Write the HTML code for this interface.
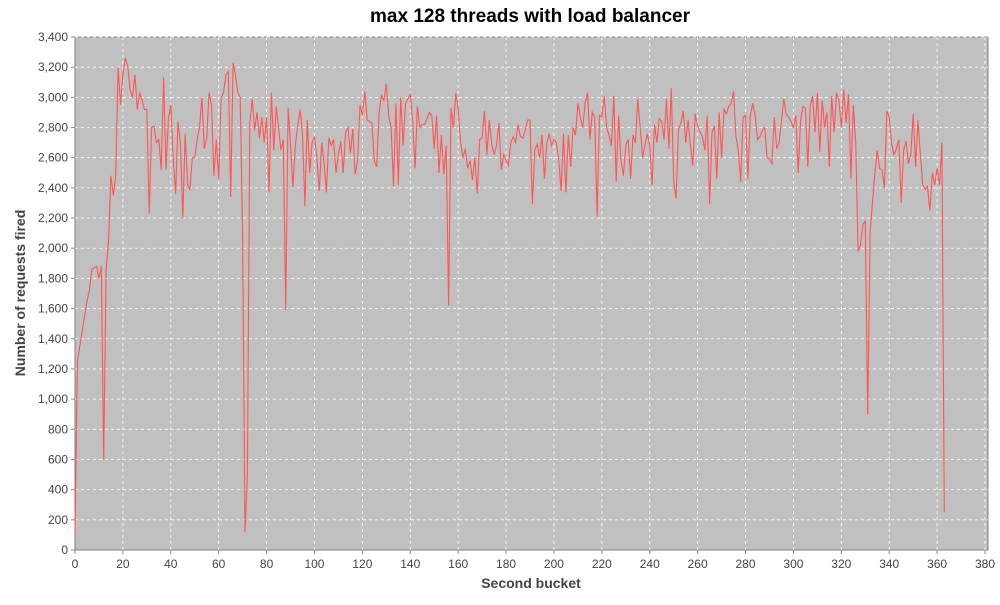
<!DOCTYPE html>
<html><head><meta charset="utf-8"><style>
body{margin:0;background:#fff;font-family:"Liberation Sans",sans-serif;}
svg text{font-family:"Liberation Sans",sans-serif;}
</style></head><body>
<svg id="chart" width="1000" height="600" xmlns="http://www.w3.org/2000/svg">
<text x="530" y="22" text-anchor="middle" font-size="19" font-weight="bold">max 128 threads with load balancer</text>
<rect x="75" y="37" width="913" height="513" fill="#c0c0c0" stroke="#808080"/>
<g id="grid"></g>
<g id="yticks"></g>
<g id="xticks"></g>
<path id="line" fill="none" stroke="#ff5555" stroke-width="1.1"/>
<text transform="translate(25,293) rotate(-90)" text-anchor="middle" font-size="14" font-weight="bold" fill="#444">Number of requests fired</text>
<text x="531" y="588" text-anchor="middle" font-size="14" font-weight="bold" fill="#444">Second bucket</text>
</svg>
<script>
const values = [100,1250,1350,1450,1550,1650,1720,1860,1870,1880,1800,1880,600,1850,2050,2480,2350,2480,3200,2950,3150,3260,3210,3050,3000,3150,2920,3030,2980,2920,2920,2230,2800,2810,2700,2720,2520,3130,2520,2860,2950,2600,2360,2840,2700,2200,2760,2420,2390,2600,2600,2720,2800,3000,2660,2730,3030,2950,2480,2720,2460,3000,3030,3150,3170,2340,3230,3150,3030,3000,2100,120,500,2830,2990,2780,2900,2730,2870,2700,2870,2370,3030,2650,2940,2800,2650,2720,1590,2930,2700,2400,2680,2810,2920,2760,2280,2850,2500,2700,2740,2600,2380,2700,2560,2370,2730,2680,2720,2500,2620,2710,2500,2770,2800,2630,2790,2490,2580,2950,2880,3040,2850,2840,2830,2580,2540,2900,3010,2980,3090,2880,2800,2410,2960,2420,3000,2680,2960,2990,3020,2840,2530,2940,2800,2820,2820,2860,2900,2880,2660,2880,2500,2750,2490,2680,1620,2930,2800,3030,2920,2700,2600,2660,2530,2580,2450,2600,2360,2720,2730,2910,2620,2850,2690,2620,2680,2830,2520,2620,2580,2550,2700,2740,2700,2820,2740,2730,2780,2850,2850,2290,2650,2690,2600,2750,2460,2700,2760,2680,2720,2700,2590,2380,
2760,2370,2750,2540,2800,2750,2960,2870,2800,2960,3030,2720,2900,2870,2210,2880,2870,3010,2800,2750,2680,3010,2440,2880,2580,2480,2680,2720,
2460,2750,2700,2990,2800,2600,2680,2760,2680,2420,2820,2700,2860,2840,2720,2990,2660,3060,2440,2330,2790,2830,2910,2700,2850,2680,2550,2890,2810,2770,2740,2650,2880,2290,2770,2810,2460,2900,2600,2920,2890,2940,2960,3040,
2740,2650,2440,2870,2880,2460,2880,2960,2880,2720,2740,2780,2800,2600,2590,2560,2870,2660,2700,2840,2990,2890,2870,2840,2800,2880,2500,2850,2940,2930,2540,2940,3010,2770,3030,2640,2980,2800,
2900,2540,3010,2770,3030,2980,2800,3050,2830,3020,2460,
2950,2700,1980,2020,2160,2180,900,2100,2300,2490,2650,2530,2520,2400,2910,2870,2690,2620,2660,2720,2300,2650,2710,2560,2620,2890,2540,2850,2630,2420,2390,2410,2250,2500,2420,2530,2420,2700,250];
const yTickValues = [0,200,400,600,800,1000,1200,1400,1600,1800,2000,2200,2400,2600,2800,3000,3200,3400];
const xTickValues = [0,20,40,60,80,100,120,140,160,180,200,220,240,260,280,300,320,340,360,380];
const NS="http://www.w3.org/2000/svg";
const X0=75,X1=985,Y0=550,Y1=37;
const xs=v=>X0+v*(X1-X0)/380;
const ys=v=>Y0-v*(Y0-Y1)/3400;
const grid=document.getElementById('grid'),yt=document.getElementById('yticks'),xt=document.getElementById('xticks');
function mk(t,a){const e=document.createElementNS(NS,t);for(const k in a)e.setAttribute(k,a[k]);return e;}
yTickValues.forEach(v=>{
  const y=ys(v);
  if(v>0){const g=mk('line',{x1:75,x2:988,y1:y,y2:y,stroke:'#fff','stroke-dasharray':'3,3','stroke-width':0.8});
  
  
  grid.appendChild(g);}
  const tk=mk('line',{x1:71,x2:75,y1:y,y2:y,stroke:'#888'});
  
  
  yt.appendChild(tk);
  const t=mk('text',{x:68,y:y+4,'text-anchor':'end','font-size':12,fill:'#444'});
  
  
  t.textContent=v.toLocaleString('en-US');yt.appendChild(t);
});
xTickValues.forEach(v=>{
  const x=xs(v);
  if(v>0){const g=mk('line',{x1:x,x2:x,y1:37,y2:550,stroke:'#fff','stroke-dasharray':'3,3','stroke-width':0.8});
  
  
  grid.appendChild(g);}
  const tk=mk('line',{x1:x,x2:x,y1:550,y2:554,stroke:'#888'});
  
  
  xt.appendChild(tk);
  const t=mk('text',{x:x,y:568,'text-anchor':'middle','font-size':12,fill:'#444'});
  
  
  t.textContent=v;xt.appendChild(t);
});
document.getElementById('line').setAttribute('d',values.map((v,i)=>(i?'L':'M')+xs(i).toFixed(1)+','+ys(v).toFixed(1)).join(''));
</script>
</body></html>
